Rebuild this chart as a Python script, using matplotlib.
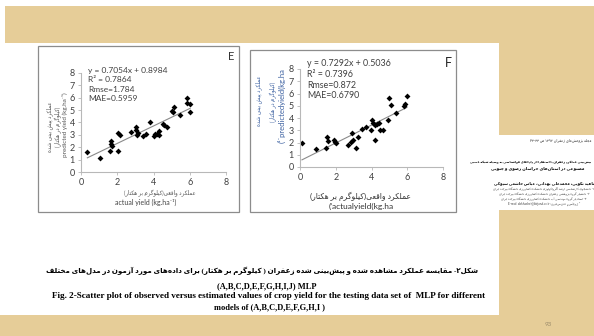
import re
import numpy as np
import matplotlib
matplotlib.use("Agg")
import matplotlib.pyplot as plt
from matplotlib.patches import Rectangle

# panel E (MLP model E) - actual vs predicted saffron yield
e_actual = [0.35, 1.05, 1.64, 1.66, 1.69, 1.60, 2.03, 2.15, 2.06, 2.74, 3.04, 3.04, 3.08,
            3.17, 3.41, 3.59, 3.81, 4.03, 4.09, 4.22, 4.29, 4.33, 4.51, 4.60, 4.73, 5.01,
            5.14, 5.06, 5.47, 5.87, 5.84, 6.02, 6.02]
e_pred = [1.64, 1.13, 2.48, 2.26, 2.07, 1.67, 3.15, 2.96, 1.70, 3.21, 3.61, 3.40, 3.02,
          3.15, 2.94, 3.10, 4.04, 2.88, 3.07, 3.10, 3.29, 2.96, 3.88, 3.77, 3.67, 4.91,
          5.23, 4.82, 4.61, 5.98, 5.55, 5.50, 4.85]
e_slope, e_icpt = 0.7054, 0.8984
e_stats = ["y = 0.7054x + 0.8984", "R² = 0.7864", "Rmse=1.784", "MAE=0.5959"]

# panel F
f_actual = [0.11, 0.87, 1.44, 1.52, 1.55, 1.91, 1.97, 2.03, 2.67, 2.92, 2.88, 2.95, 3.11,
            3.24, 3.45, 3.67, 3.96, 4.02, 4.09, 4.20, 4.28, 4.43, 4.20, 4.49, 4.66, 4.94,
            5.00, 5.08, 5.38, 5.80, 5.87, 5.98]
f_pred = [1.94, 1.50, 1.56, 2.43, 2.16, 2.21, 2.05, 1.94, 1.83, 2.81, 2.05, 2.21, 1.56,
          2.43, 3.14, 3.25, 3.03, 3.80, 3.63, 3.44, 3.52, 3.61, 2.21, 2.98, 3.03, 3.85,
          5.63, 5.08, 4.40, 4.95, 5.11, 5.82]
f_slope, f_icpt = 0.7292, 0.5036
f_stats = ["y = 0.7292x + 0.5036", "R² = 0.7396", "Rmse=0.872", "MAE=0.6790"]

xticks = [0, 2, 4, 6, 8]
yticks = [0, 1, 2, 3, 4, 5, 6, 7, 8]

fa_pred = "عملکرد پیش بینی شده"
fa_unit = "(کیلوگرم در هکتار)"
fa_actual = "عملکرد واقعی(کیلوگرم بر هکتار)"
fa_caption = ("شکل۲- مقایسه عملکرد مشاهده شده و پیش‌بینی شده زعفران ( کیلوگرم بر هکتار) "
              "برای داده‌های مورد آزمون در مدل‌های مختلف")
en_caption = ["(A,B,C,D,E,F,G,H,I,J) MLP",
              "Fig. 2-Scatter plot of observed versus estimated values of crop yield for the testing data set of  MLP for different",
              "models of (A,B,C,D,E,F,G,H,I )"]
thumb_lines = ["مجله پژوهش‌های زعفران ۱۳۹۲ ص ۳۳-۴۳",
               "پیش‌بینی عملکرد زعفران با استفاده از داده‌های هواشناسی به وسیله شبکه عصبی",
               "مصنوعی در استان‌های خراسان رضوی و جنوبی",
               "ناهید نکویی، محمدعلی بهدانی، عباس خاشعی سیوکی",
               "۱- دانشجوی کارشناسی ارشد آگرواکولوژی دانشکده کشاورزی دانشگاه بیرجند ایران",
               "۲- دانشیار گروه پژوهشی زعفران دانشکده کشاورزی دانشگاه بیرجند ایران",
               "۳- استادیار گروه مهندسی آب دانشکده کشاورزی دانشگاه بیرجند ایران",
               "E-mail: abkhashei@birjand.ac.ir :نویسنده مسئول *"]

# --- small persian shaper (matplotlib has no arabic shaping / bidi) ---
DUAL = {'ب': 0xFE8F, 'ت': 0xFE95, 'ث': 0xFE99, 'ج': 0xFE9D, 'ح': 0xFEA1, 'خ': 0xFEA5,
        'س': 0xFEB1, 'ش': 0xFEB5, 'ص': 0xFEB9, 'ض': 0xFEBD, 'ط': 0xFEC1, 'ظ': 0xFEC5,
        'ع': 0xFEC9, 'غ': 0xFECD, 'ف': 0xFED1, 'ق': 0xFED5, 'ل': 0xFEDD, 'م': 0xFEE1,
        'ن': 0xFEE5, 'ه': 0xFEE9, 'پ': 0xFB56, 'چ': 0xFB7A, 'ک': 0xFB8E, 'گ': 0xFB92,
        'ی': 0xFBFC, 'ئ': 0xFE89}
RIGHT = {'ا': 0xFE8D, 'آ': 0xFE81, 'د': 0xFEA9, 'ذ': 0xFEAB, 'ر': 0xFEAD, 'ز': 0xFEAF,
         'و': 0xFEED, 'ژ': 0xFB8A}


def fa(s):
    out = []
    n = len(s)
    i = 0
    while i < n:
        c = s[i]
        prev = s[i - 1] if i > 0 else ''
        nxt = s[i + 1] if i + 1 < n else ''
        jp = prev in DUAL
        if c == 'ل' and nxt == 'ا':
            out.append(chr(0xFEFC if jp else 0xFEFB))
            i += 2
            continue
        if c in DUAL:
            jn = nxt in DUAL or nxt in RIGHT
            base = DUAL[c]
            if jp and jn:
                out.append(chr(base + 3))
            elif jp:
                out.append(chr(base + 1))
            elif jn:
                out.append(chr(base + 2))
            else:
                out.append(chr(base))
        elif c in RIGHT:
            out.append(chr(RIGHT[c] + (1 if jp else 0)))
        elif c != '\u200c':
            out.append(c)
        i += 1
    vis = ''.join(out)[::-1]
    vis = re.sub(r'[0-9A-Za-z۰-۹@.]+', lambda m: m.group(0)[::-1], vis)
    vis = vis.translate(str.maketrans('()', ')('))
    return vis


W, H = 594, 336
fig = plt.figure(figsize=(W / 100, H / 100), dpi=100)
sans = ['Lato', 'DejaVu Sans']
serif = ['Liberation Serif', 'DejaVu Sans']

bg = fig.add_axes([0, 0, 1, 1])
bg.set_xlim(0, W)
bg.set_ylim(H, 0)
bg.axis('off')

tan = '#e6cd98'
for x0, y0, x1, y1 in [(5, 6, W, 43), (499, 43, W, 135), (499, 210, W, H), (0, 315, W, H)]:
    bg.add_patch(Rectangle((x0, y0), x1 - x0, y1 - y0, facecolor=tan, edgecolor='none'))

# panel frames
for x0, y0, x1, y1 in [(38, 46, 239, 212), (250, 50, 456, 212)]:
    bg.add_patch(Rectangle((x0 + 1, y0 + 1), x1 - x0, y1 - y0, facecolor='#d8d8d8', edgecolor='none'))
    bg.add_patch(Rectangle((x0, y0), x1 - x0, y1 - y0, facecolor='white', edgecolor='#8c8c8c', lw=0.9))


def panel(pos, xs, ys, slope, icpt):
    ax = fig.add_axes([pos[0] / W, 1 - pos[3] / H, (pos[2] - pos[0]) / W, (pos[3] - pos[1]) / H])
    ax.patch.set_alpha(0)
    ax.set_xlim(0, 8)
    ax.set_ylim(0, 8)
    ax.set_xticks(xticks)
    ax.set_yticks(yticks)
    for s in ['top', 'right']:
        ax.spines[s].set_visible(False)
    for s in ['left', 'bottom']:
        ax.spines[s].set_color('#b8b8b8')
        ax.spines[s].set_linewidth(0.8)
    ax.tick_params(length=2.5, width=0.6, color='#b8b8b8', labelsize=6.5,
                   labelcolor='#404040', pad=2)
    for lab in ax.get_xticklabels() + ax.get_yticklabels():
        lab.set_family(sans)
    xs = np.array(xs)
    lx = np.array([xs.min(), xs.max()])
    ax.plot(lx, slope * lx + icpt, color='#8a8a8a', lw=0.8)
    ax.plot(xs, ys, 'D', color='black', ms=3, mew=0)
    return ax


axE = panel((81, 73, 226, 172), e_actual, e_pred, e_slope, e_icpt)
axF = panel((300, 69, 443, 167), f_actual, f_pred, f_slope, f_icpt)

txt = '#404040'
for k, s in enumerate(e_stats):
    bg.text(88, 70 + 9.5 * k, s, fontsize=6, family=sans, color=txt, va='center')
for k, s in enumerate(f_stats):
    bg.text(307, 64 + 10.5 * k, s, fontsize=6.4, family=sans, color=txt, va='center')
bg.text(234, 56, 'E', fontsize=8, family=sans, color='#333333', ha='right', va='center')
bg.text(452, 63, 'F', fontsize=9, family=sans, color='#222222', ha='right', va='center')

# axis titles E
bg.text(50, 127, fa(fa_pred), fontsize=4, family=sans, color='#555555', rotation=90, ha='center', va='center')
bg.text(58, 127, fa(fa_unit), fontsize=4, family=sans, color='#555555', rotation=90, ha='center', va='center')
bg.text(65, 125, 'predicted yield (kg.ha⁻¹)', fontsize=4.5, family=sans, color='#555555',
        rotation=90, ha='center', va='center')
bg.text(160, 193, fa(fa_actual), fontsize=4, family=sans, color='#555555', ha='center', va='center')
bg.text(146, 202, 'actual yield (kg.ha⁻¹)', fontsize=5, family=sans, color='#444444', ha='center', va='center')

# axis titles F
bg.text(259, 101, fa(fa_pred), fontsize=4, family=sans, color='#3a5fa0', rotation=90, ha='center', va='center')
bg.text(273, 102, fa(fa_unit), fontsize=4, family=sans, color='#3a5fa0', rotation=90, ha='center', va='center')
bg.text(282, 106, '(¹⁻predictedyield(kg.ha', fontsize=5.5, family=sans, color='#3a5fa0',
        rotation=90, ha='center', va='center')
bg.text(360, 196, fa(fa_actual), fontsize=5.5, family=sans, color='#333333', ha='center', va='center')
bg.text(361, 206, "(ʼactualyield(kg.ha", fontsize=6, family=sans, color='#333333', ha='center', va='center')

# caption
r = fig.canvas.get_renderer()


def fit(t, width):
    w = t.get_window_extent(r).width
    t.set_fontsize(t.get_fontsize() * width / w)


t = bg.text(262, 271, fa(fa_caption), fontsize=6, family=serif, weight='bold', ha='center', va='center')
fit(t, 433)
bg.text(267, 286, en_caption[0], fontsize=6, family=serif, weight='bold', ha='center', va='center')
t = bg.text(269, 296, en_caption[1], fontsize=6, family=serif, weight='bold', ha='center', va='center')
fit(t, 438)
bg.text(270, 307, en_caption[2], fontsize=6, family=serif, weight='bold', ha='center', va='center')

# thumbnail of the paper's first page
t = bg.text(591, 140, fa(thumb_lines[0]), fontsize=2.6, family=sans, ha='right', va='center', color='#333333')
t = bg.text(531, 161, fa(thumb_lines[1]), fontsize=3.2, family=sans, weight='bold', ha='center', va='center')
fit(t, 120)
bg.text(538, 168, fa(thumb_lines[2]), fontsize=3.0, family=sans, weight='bold', ha='center', va='center')
bg.text(544, 183, fa(thumb_lines[3]), fontsize=2.8, family=sans, weight='bold', ha='center', va='center')
for k, s in enumerate(thumb_lines[4:]):
    bg.text(544, 189 + 5 * k, fa(s) if k < 3 else s, fontsize=2.2, family=sans,
            ha='center', va='center', color='#444444')

bg.text(548, 324, '93', fontsize=4.5, family=sans, color='#9a8a6a', ha='center', va='center')

fig.savefig('out.png', dpi=100)
